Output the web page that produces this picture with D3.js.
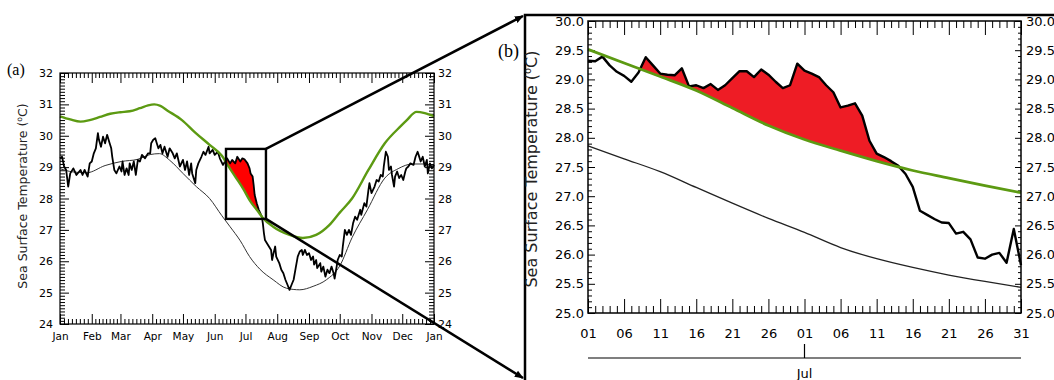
<!DOCTYPE html>
<html>
<head>
<meta charset="utf-8">
<script src="https://cdn.jsdelivr.net/npm/d3@7"></script>
<style>
  body { margin: 0; background: #fff; }
  svg { display: block; }
</style>
</head>
<body>
<svg id="chart" width="1054" height="380"></svg>
<script>
// ---------- Panel (a): one year of daily SST ----------
const monthLabels = ["Jan","Feb","Mar","Apr","May","Jun","Jul","Aug","Sep","Oct","Nov","Dec","Jan"];
const monthStartDays = [0,31,59,90,120,151,181,212,243,273,304,334,365];
const yearTempTicks = [24,25,26,27,28,29,30,31,32];

// observed SST (day of year, degC)
const obsDays = [0,2,4,6,8,10,13,16,20,22,24,27,29,31,33,35,37,38,40,42,44,46,48,50,51,53,55,58,60,61,63,65,67,68,70,72,74,76,78,80,83,86,88,89,91,93,94,96,98,100,102,105,107,110,112,114,117,120,122,124,126,128,129,132,133,135,138,140,142,145,146,149,151,154,156,159,161,163,166,168,171,173,176,178,180,183,185,186,188,189,190,192,194,197,198,199,200,203,206,207,208,210,211,214,216,218,220,222,224,226,228,230,232,234,236,237,239,241,243,245,247,248,250,251,254,255,257,259,261,263,265,267,268,270,271,273,275,276,278,280,282,284,286,288,290,293,294,297,299,301,302,304,307,309,311,313,315,316,318,320,321,323,324,326,327,329,331,333,335,337,338,340,342,345,347,349,350,352,354,356,358,359,361,363,365];
const obsSST = [29.28,29.33,29.02,28.91,28.38,28.8,28.96,28.75,28.91,28.75,28.91,28.7,29.12,29.18,29.44,29.6,30.08,29.87,29.65,29.97,29.76,30.03,29.81,29.6,29.33,28.91,28.8,29.02,28.86,29.18,28.75,28.96,28.75,29.12,28.91,29.18,28.75,29.23,29.18,29.39,29.28,29.44,29.44,29.76,29.87,29.92,29.81,29.6,29.71,29.44,29.65,29.33,29.6,29.44,29.28,29.44,29.02,29.23,28.91,29.18,28.75,29.12,28.8,28.49,28.91,29.12,29.33,29.49,29.39,29.65,29.44,29.55,29.39,29.49,29.28,29.07,29.18,29.28,29.12,29.23,29.12,29.33,29.18,29.28,29.25,29.12,28.96,28.8,28.7,28.43,28.11,27.85,27.64,27.42,27.2,26.9,26.68,26.52,26.36,26.04,26.2,26.47,26.15,25.94,25.73,25.62,25.41,25.25,25.09,25.25,25.41,25.78,26.15,26.31,26.36,26.2,26.36,26.2,26.26,26.04,26.15,25.89,26.04,25.78,25.94,25.67,25.83,25.51,25.73,25.62,25.83,25.62,25.45,25.83,26.04,26.2,26.15,26.47,27.0,26.84,27.0,26.84,27.21,27.42,27.32,27.64,27.48,27.85,27.74,28.27,28.49,28.17,28.38,28.59,28.54,28.75,28.7,29.02,29.49,29.33,28.91,29.02,28.75,28.38,28.7,28.86,28.65,28.75,28.59,28.86,28.96,29.02,29.12,29.07,29.33,29.49,29.39,29.18,29.33,29.02,29.23,28.8,29.12,28.96,29.07];

// climatological mean (thin line)
const climDays = [0,12,26,44,60,76,88,97,107,120,133,146,158,166,176,185,195,208,221,234,247,260,273,285,300,317,330,344,355,365];
const climSST  = [28.95,28.85,28.82,29.05,29.18,29.25,29.4,29.43,29.22,28.8,28.38,28.0,27.45,27.1,26.65,26.15,25.75,25.41,25.14,25.09,25.2,25.41,25.85,26.75,27.64,28.65,28.95,29.1,29.1,29.05];

// marine heatwave threshold (green line)
const threshDays = [0,10,20,29,39,49,59,68,78,86,92,98,105,119,132,146,158,164,171,179,185,193,198,208,224,237,250,263,273,285,301,317,333,338,348,356,365];
const threshSST  = [30.62,30.52,30.45,30.5,30.6,30.7,30.75,30.78,30.88,30.97,31.0,30.95,30.8,30.5,30.1,29.71,29.36,29.05,28.7,28.3,27.95,27.6,27.38,27.1,26.84,26.74,26.84,27.16,27.55,28.0,28.91,29.76,30.32,30.48,30.76,30.72,30.62];

const eventDays = [162, 200];          // heatwave shaded in red
const zoomBoxDays = [162, 201];        // extent of the enlarged window
const zoomBoxTemps = [27.35, 29.58];

// ---------- Panel (b): 1 June - 31 July, daily ----------
const dayLabels = ["01","06","11","16","21","26","01","06","11","16","21","26","31"];
const detailTempTicks = [25.0,25.5,26.0,26.5,27.0,27.5,28.0,28.5,29.0,29.5,30.0];
const detailObs = [29.32,29.31,29.39,29.24,29.13,29.06,28.96,29.12,29.38,29.24,29.10,29.08,29.07,29.19,28.88,28.90,28.85,28.92,28.82,28.90,29.02,29.14,29.14,29.04,29.17,29.08,28.96,28.85,28.90,29.27,29.15,29.10,29.04,28.90,28.78,28.52,28.55,28.59,28.38,27.95,27.73,27.67,27.60,27.52,27.38,27.16,26.75,26.68,26.61,26.55,26.54,26.36,26.39,26.26,25.95,25.93,26.00,26.03,25.86,26.44,25.82];
const detailCurveDays = [0,5,10,15,20,25,30,35,40,45,50,55,60];
const detailThresh = [29.515,29.28,29.05,28.81,28.51,28.21,27.97,27.78,27.60,27.44,27.31,27.18,27.06];
const detailClim   = [27.86,27.64,27.42,27.15,26.88,26.62,26.38,26.12,25.93,25.78,25.65,25.54,25.44];
const detailEventDays = [5, 45];
const julyStartIndex = 30;

// ---------- helpers ----------
const svg = d3.select("#chart");
const FONT = "DejaVu Sans, sans-serif";
const GREEN = "#5c9a12";

function interp(days, vals) {
  return d => {
    const i = Math.min(days.length - 2, Math.max(0, d3.bisectRight(days, d) - 1));
    const t = (d - days[i]) / (days[i + 1] - days[i]);
    return vals[i] + (vals[i + 1] - vals[i]) * t;
  };
}

// area between an observed series and the threshold, only where obs is above
function excessArea(x, y, oDays, oVals, tDays, tVals, range) {
  const fo = interp(oDays, oVals), ft = interp(tDays, tVals);
  const ds = oDays.concat(tDays).filter(d => d >= range[0] && d <= range[1]);
  const base = Array.from(new Set(ds.concat(range))).sort((a, b) => a - b);
  const pts = [];
  for (let i = 0; i < base.length; i++) {
    pts.push(base[i]);
    if (i < base.length - 1) {
      const a = base[i], b = base[i + 1];
      const da = fo(a) - ft(a), db = fo(b) - ft(b);
      if (da * db < 0) pts.push(a + (b - a) * da / (da - db));
    }
  }
  pts.sort((a, b) => a - b);
  return d3.area()
    .x(d => x(d))
    .y0(d => y(ft(d)))
    .y1(d => y(Math.max(fo(d), ft(d))))(pts);
}

function styleAxis(sel, size) {
  sel.select(".domain").remove();
  sel.selectAll("line").attr("stroke", "#000").attr("stroke-width", 1);
  sel.selectAll("text").attr("font-family", FONT).attr("font-size", size).attr("fill", "#000");
}

function yTitle(x, y, size) {
  const t = svg.append("text")
    .attr("transform", `translate(${x},${y}) rotate(-90)`)
    .attr("text-anchor", "middle")
    .attr("font-family", FONT).attr("font-size", size).attr("fill", "#222");
  t.append("tspan").text("Sea Surface Temperature (");
  t.append("tspan").attr("font-size", size * 0.62).attr("dy", -size * 0.38).text("o");
  t.append("tspan").attr("dy", size * 0.38).text("C)");
}

// ---------- Panel (a) ----------
const xA = d3.scaleLinear().domain([0, 365]).range([60, 434]);
const yA = d3.scaleLinear().domain([24, 32]).range([324, 73]);

const monthMinor = [];
for (let m = 0; m < 12; m++) {
  const len = monthStartDays[m + 1] - monthStartDays[m];
  for (let k = 1; k < 8; k++) monthMinor.push(monthStartDays[m] + k * len / 8);
}
const tempMinorA = d3.range(1, 80).filter(i => i % 10 !== 0).map(i => 24 + i / 10);

const gA = svg.append("g");
gA.append("g").attr("transform", "translate(0,324)")
  .call(d3.axisBottom(xA).tickValues(monthStartDays).tickSize(-10).tickPadding(9)
    .tickFormat((d, i) => monthLabels[i])).call(s => styleAxis(s, 10.5));
gA.append("g").attr("transform", "translate(0,324)")
  .call(d3.axisBottom(xA).tickValues(monthMinor).tickSize(-5).tickFormat("")).call(s => styleAxis(s, 10));
gA.append("g").attr("transform", "translate(0,73)")
  .call(d3.axisTop(xA).tickValues(monthStartDays).tickSize(-10).tickFormat("")).call(s => styleAxis(s, 10));
gA.append("g").attr("transform", "translate(0,73)")
  .call(d3.axisTop(xA).tickValues(monthMinor).tickSize(-5).tickFormat("")).call(s => styleAxis(s, 10));
gA.append("g").attr("transform", "translate(60,0)")
  .call(d3.axisLeft(yA).tickValues(yearTempTicks).tickSize(-9).tickPadding(7)).call(s => styleAxis(s, 11));
gA.append("g").attr("transform", "translate(60,0)")
  .call(d3.axisLeft(yA).tickValues(tempMinorA).tickSize(-5).tickFormat("")).call(s => styleAxis(s, 11));
gA.append("g").attr("transform", "translate(434,0)")
  .call(d3.axisRight(yA).tickValues(yearTempTicks).tickSize(-9).tickPadding(4)).call(s => styleAxis(s, 11));
gA.append("g").attr("transform", "translate(434,0)")
  .call(d3.axisRight(yA).tickValues(tempMinorA).tickSize(-5).tickFormat("")).call(s => styleAxis(s, 11));

gA.append("path")
  .attr("d", excessArea(xA, yA, obsDays, obsSST, threshDays, threshSST, eventDays))
  .attr("fill", "#ff0000");

const smoothA = (days, vals) => d3.line().curve(d3.curveMonotoneX).x((d, i) => xA(days[i])).y(d => yA(d))(vals);
gA.append("path").attr("d", smoothA(climDays, climSST))
  .attr("fill", "none").attr("stroke", "#333").attr("stroke-width", 1);
gA.append("path").attr("d", d3.line().x((d, i) => xA(obsDays[i])).y(d => yA(d))(obsSST))
  .attr("fill", "none").attr("stroke", "#000").attr("stroke-width", 1.8).attr("stroke-linejoin", "round");
gA.append("path").attr("d", smoothA(threshDays, threshSST))
  .attr("fill", "none").attr("stroke", GREEN).attr("stroke-width", 2.4).attr("stroke-linejoin", "round");

gA.append("rect").attr("x", 60).attr("y", 73).attr("width", 374).attr("height", 251)
  .attr("fill", "none").attr("stroke", "#000").attr("stroke-width", 1.2);

// enlarged window
const bx0 = xA(zoomBoxDays[0]), bx1 = xA(zoomBoxDays[1]);
const by0 = yA(zoomBoxTemps[1]), by1 = yA(zoomBoxTemps[0]);
gA.append("rect").attr("x", bx0).attr("y", by0).attr("width", bx1 - bx0).attr("height", by1 - by0)
  .attr("fill", "none").attr("stroke", "#000").attr("stroke-width", 2.4);

yTitle(27, 196, 12.5);
svg.append("text").attr("x", 7).attr("y", 75).attr("font-family", "Liberation Serif, serif")
  .attr("font-size", 16).text("(a)");

// ---------- connector frame and arrows ----------
const defs = svg.append("defs");
defs.append("marker").attr("id", "arrow").attr("viewBox", "0 0 10 10")
  .attr("refX", 9).attr("refY", 5).attr("markerWidth", 9).attr("markerHeight", 9)
  .attr("markerUnits", "userSpaceOnUse").attr("orient", "auto")
  .append("path").attr("d", "M0,1 L10,5 L0,9 Z").attr("fill", "#000");

svg.append("path").attr("d", "M525,380 L525,15 L1054,15")
  .attr("fill", "none").attr("stroke", "#000").attr("stroke-width", 2.5);
svg.append("line").attr("x1", bx1).attr("y1", by0).attr("x2", 523).attr("y2", 16)
  .attr("stroke", "#000").attr("stroke-width", 2.5).attr("marker-end", "url(#arrow)");
svg.append("line").attr("x1", bx1).attr("y1", by1).attr("x2", 523).attr("y2", 378)
  .attr("stroke", "#000").attr("stroke-width", 2.5).attr("marker-end", "url(#arrow)");

// ---------- Panel (b) ----------
const dayIdx = d3.range(detailObs.length);
const xB = d3.scaleLinear().domain([0, 60]).range([588, 1021]);
const yB = d3.scaleLinear().domain([25, 30]).range([313, 21]);
const majorDays = d3.range(0, 61, 5);
const minorDays = d3.range(0, 61).filter(d => d % 5 !== 0);
const tempMinorB = d3.range(1, 50).filter(i => i % 5 !== 0).map(i => 25 + i / 10);

const gB = svg.append("g");
gB.append("g").attr("transform", "translate(0,313)")
  .call(d3.axisBottom(xB).tickValues(majorDays).tickSize(-14).tickPadding(16)
    .tickFormat((d, i) => dayLabels[i])).call(s => styleAxis(s, 13));
gB.append("g").attr("transform", "translate(0,313)")
  .call(d3.axisBottom(xB).tickValues(minorDays).tickSize(-7).tickFormat("")).call(s => styleAxis(s, 13));
gB.append("g").attr("transform", "translate(0,21)")
  .call(d3.axisTop(xB).tickValues(majorDays).tickSize(-14).tickFormat("")).call(s => styleAxis(s, 13));
gB.append("g").attr("transform", "translate(0,21)")
  .call(d3.axisTop(xB).tickValues(minorDays).tickSize(-7).tickFormat("")).call(s => styleAxis(s, 13));
gB.append("g").attr("transform", "translate(588,0)")
  .call(d3.axisLeft(yB).tickValues(detailTempTicks).tickSize(-7).tickPadding(4).tickFormat(d3.format(".1f")))
  .call(s => styleAxis(s, 13));
gB.append("g").attr("transform", "translate(588,0)")
  .call(d3.axisLeft(yB).tickValues(tempMinorB).tickSize(-4).tickFormat("")).call(s => styleAxis(s, 13));
gB.append("g").attr("transform", "translate(1021,0)")
  .call(d3.axisRight(yB).tickValues(detailTempTicks).tickSize(-6).tickPadding(5).tickFormat(d3.format(".1f")))
  .call(s => styleAxis(s, 13));
gB.append("g").attr("transform", "translate(1021,0)")
  .call(d3.axisRight(yB).tickValues(tempMinorB).tickSize(-3).tickFormat("")).call(s => styleAxis(s, 13));

gB.append("path")
  .attr("d", excessArea(xB, yB, dayIdx, detailObs, detailCurveDays, detailThresh, detailEventDays))
  .attr("fill", "#ee1c25");

const smoothB = (days, vals) => d3.line().curve(d3.curveMonotoneX).x((d, i) => xB(days[i])).y(d => yB(d))(vals);
gB.append("path").attr("d", smoothB(detailCurveDays, detailClim))
  .attr("fill", "none").attr("stroke", "#222").attr("stroke-width", 1.3);
gB.append("path").attr("d", d3.line().x((d, i) => xB(dayIdx[i])).y(d => yB(d))(detailObs))
  .attr("fill", "none").attr("stroke", "#000").attr("stroke-width", 2.4).attr("stroke-linejoin", "round");
gB.append("path").attr("d", smoothB(detailCurveDays, detailThresh))
  .attr("fill", "none").attr("stroke", GREEN).attr("stroke-width", 2.8).attr("stroke-linejoin", "round");

gB.append("rect").attr("x", 588).attr("y", 21).attr("width", 433).attr("height", 292)
  .attr("fill", "none").attr("stroke", "#000").attr("stroke-width", 1.5);

// month bar under the day axis
gB.append("line").attr("x1", 588).attr("x2", 1021).attr("y1", 358).attr("y2", 358)
  .attr("stroke", "#000").attr("stroke-width", 1.2);
gB.append("line").attr("x1", xB(julyStartIndex)).attr("x2", xB(julyStartIndex)).attr("y1", 344).attr("y2", 358)
  .attr("stroke", "#000").attr("stroke-width", 1.2);
gB.append("text").attr("x", xB(julyStartIndex)).attr("y", 378).attr("text-anchor", "middle")
  .attr("font-family", FONT).attr("font-size", 13).text("Jul");

yTitle(537, 169, 16);
svg.append("text").attr("x", 498).attr("y", 57).attr("font-family", "Liberation Serif, serif")
  .attr("font-size", 18).text("(b)");
</script>
</body>
</html>
